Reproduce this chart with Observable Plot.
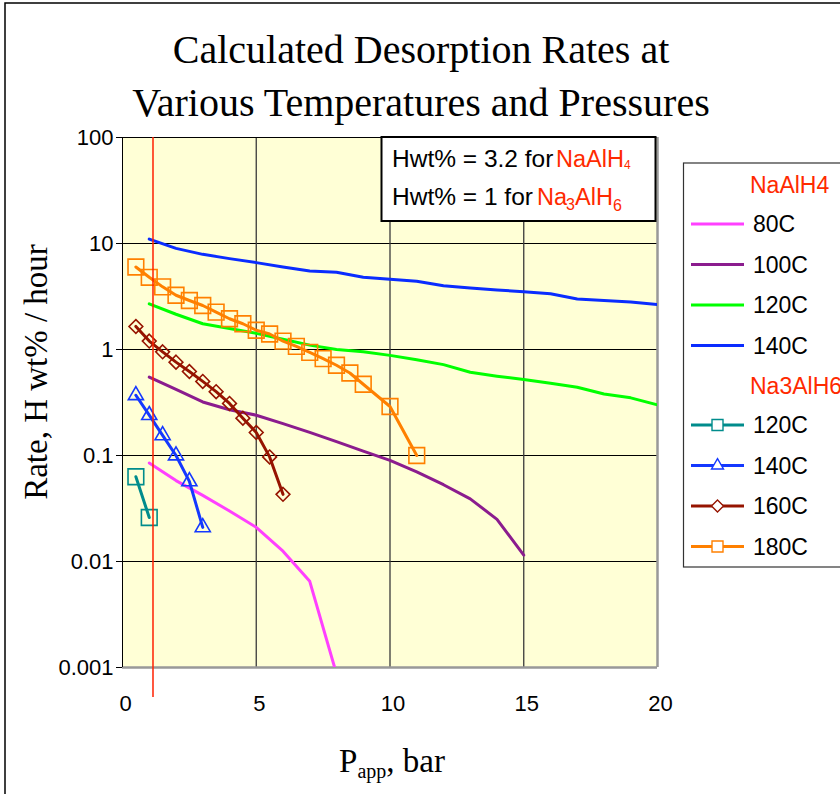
<!DOCTYPE html>
<html><head><meta charset="utf-8">
<script src="https://cdn.jsdelivr.net/npm/d3@7"></script>
<script src="https://cdn.jsdelivr.net/npm/@observablehq/plot@0.6"></script>
<style>
html,body{margin:0;padding:0;background:#fff;}
#wrap{position:relative;width:840px;height:794px;overflow:hidden;background:#fff;}
#wrap > svg{position:absolute;left:0;top:0;}
</style></head><body><div id="wrap"></div>
<script>
// ---------- data ----------
const titleLines = ["Calculated Desorption Rates at", "Various Temperatures and Pressures"];
const yTicks = [100, 10, 1, 0.1, 0.01, 0.001];
const yTickLabels = ["100", "10", "1", "0.1", "0.01", "0.001"];
const xTicks = [0, 5, 10, 15, 20];
const refPressure = 1.14; // red vertical marker line

const legendGroups = ["NaAlH4", "Na3AlH6"];
const seriesNames = ["80C", "100C", "120C", "140C", "120C", "140C", "160C", "180C"];
const seriesGroup = ["NaAlH4", "NaAlH4", "NaAlH4", "NaAlH4", "Na3AlH6", "Na3AlH6", "Na3AlH6", "Na3AlH6"];
const seriesColors = ["#ff40ff", "#8b1c8e", "#00ff00", "#0a2cff", "#008c8c", "#1438ff", "#961400", "#ff8000"];
const seriesSymbols = [null, null, null, null, "square2", "triangle2", "diamond2", "square2"];

const naalh4_80C_P = [1, 2, 3, 4, 5, 6, 7, 8];
const naalh4_80C_R = [0.085, 0.058, 0.042, 0.030, 0.021, 0.0125, 0.0065, 0.00087];
const naalh4_100C_P = [1, 2, 3, 4, 5, 6, 7, 8, 9, 10, 11, 12, 13, 14, 15];
const naalh4_100C_R = [0.55, 0.42, 0.32, 0.27, 0.24, 0.20, 0.165, 0.135, 0.11, 0.09, 0.07, 0.053, 0.039, 0.025, 0.0115];
const naalh4_120C_P = [1, 2, 3, 4, 5, 6, 7, 8, 9, 10, 11, 12, 13, 14, 15, 16, 17, 18, 19, 20];
const naalh4_120C_R = [2.7, 2.15, 1.75, 1.58, 1.42, 1.25, 1.1, 1.0, 0.95, 0.88, 0.8, 0.72, 0.61, 0.56, 0.52, 0.48, 0.44, 0.38, 0.35, 0.30];
const naalh4_140C_P = [1, 2, 3, 4, 5, 6, 7, 8, 9, 10, 11, 12, 13, 14, 15, 16, 17, 18, 19, 20];
const naalh4_140C_R = [11, 9.0, 7.9, 7.2, 6.6, 6.0, 5.5, 5.35, 4.8, 4.6, 4.4, 4.0, 3.8, 3.65, 3.5, 3.35, 3.0, 2.9, 2.8, 2.66];

const na3alh6_120C_P = [0.5, 1];
const na3alh6_120C_R = [0.063, 0.026];
const na3alh6_140C_P = [0.5, 1, 1.5, 2, 2.5, 3];
const na3alh6_140C_R = [0.37, 0.24, 0.155, 0.10, 0.057, 0.021];
const na3alh6_160C_P = [0.5, 1, 1.5, 2, 2.5, 3, 3.5, 4, 4.5, 5, 5.5, 6];
const na3alh6_160C_R = [1.65, 1.2, 0.95, 0.76, 0.62, 0.5, 0.4, 0.31, 0.225, 0.165, 0.097, 0.043];
const na3alh6_180C_P = [0.5, 1, 1.5, 2, 2.5, 3, 3.5, 4, 4.5, 5, 5.5, 6, 6.5, 7, 7.5, 8, 8.5, 9, 10, 11];
const na3alh6_180C_R = [6.0, 4.8, 3.9, 3.25, 2.9, 2.6, 2.25, 1.95, 1.75, 1.52, 1.4, 1.2, 1.07, 0.94, 0.82, 0.71, 0.6, 0.47, 0.29, 0.1];

const seriesP = [naalh4_80C_P, naalh4_100C_P, naalh4_120C_P, naalh4_140C_P, na3alh6_120C_P, na3alh6_140C_P, na3alh6_160C_P, na3alh6_180C_P];
const seriesR = [naalh4_80C_R, naalh4_100C_R, naalh4_120C_R, naalh4_140C_R, na3alh6_120C_R, na3alh6_140C_R, na3alh6_160C_R, na3alh6_180C_R];

// ---------- build ----------
const series = seriesNames.map((name, i) => ({
  name, group: seriesGroup[i], color: seriesColors[i], symbol: seriesSymbols[i],
  rows: seriesP[i].map((p, j) => ({P: p, R: seriesR[i][j]}))
}));
const symbolR = {square2: 10, triangle2: 7.2, diamond2: 6.2};

const dataMarks = [];
series.forEach(s => {
  dataMarks.push(Plot.line(s.rows, {x: "P", y: "R", stroke: s.color, strokeWidth: 3, clip: true}));
  if (s.symbol) {
    dataMarks.push(Plot.dot(s.rows, {x: "P", y: "R", symbol: s.symbol, r: symbolR[s.symbol],
      stroke: s.color, fill: "none", strokeWidth: 1.6}));
  }
});

const chart = Plot.plot({
  width: 840, height: 794,
  marginLeft: 122, marginRight: 183, marginTop: 137, marginBottom: 127,
  style: {background: "transparent", fontFamily: "'Liberation Sans', Arial, sans-serif", fontSize: "22px", color: "#000", overflow: "visible"},
  x: {domain: [0, 20]},
  y: {type: "log", domain: [0.001, 100]},
  marks: [
    Plot.frame({fill: "#ffffd6", stroke: null}),
    Plot.ruleY(yTicks.slice(1, 5), {stroke: "#000", strokeWidth: 1}),
    Plot.ruleX([5, 10, 15], {stroke: "#3a3a3a", strokeWidth: 1.3}),
    Plot.ruleY([100], {stroke: "#000", strokeWidth: 1}),
    Plot.ruleX([20], {stroke: "#999", strokeWidth: 2.5}),
    Plot.ruleY([0.001], {stroke: "#999", strokeWidth: 2.5}),
    Plot.ruleX([0], {stroke: "#000", strokeWidth: 1}),
    Plot.axisY({ticks: yTicks, tickSize: 6, tickPadding: 3, fontSize: 22, label: null, stroke: "#000",
      tickFormat: d => yTickLabels[yTicks.findIndex(t => Math.abs(Math.log10(t) - Math.log10(d)) < 1e-6)]}),
    Plot.axisX({ticks: xTicks, tickSize: 0, tickPadding: 28, fontSize: 22, label: null, dx: 3}),
    ...dataMarks,
    Plot.ruleX([refPressure], {y1: 100, y2: 0.00052, stroke: "#ff2000", strokeWidth: 1.5})
  ]
});
chart.querySelectorAll("text").forEach(el => { el.style.fontSize = "22px"; el.style.fontFamily = "'Liberation Sans', Arial, sans-serif"; });
const wrap = document.getElementById("wrap");
wrap.appendChild(chart);

// ---------- overlay text, annotation, legend ----------
const ov = d3.select(wrap).append("svg").attr("width", 840).attr("height", 794).style("pointer-events", "none");
const serif = "'Liberation Serif', 'Times New Roman', serif";
const sans = "'Liberation Sans', Arial, sans-serif";

ov.append("rect").attr("x", 5).attr("y", 3).attr("width", 900).attr("height", 900)
  .attr("fill", "none").attr("stroke", "#000").attr("stroke-width", 1.5);

titleLines.forEach((t, i) => ov.append("text").attr("x", 421).attr("y", 63 + i * 53)
  .attr("text-anchor", "middle").style("font-family", serif).style("font-size", "40px").attr("fill", "#000").text(t));

ov.append("text").attr("transform", "translate(47,372) rotate(-90)").attr("text-anchor", "middle")
  .style("font-family", serif).style("font-size", "33px").text("Rate, H wt% / hour");

const xl = ov.append("text").attr("x", 392).attr("y", 772).attr("text-anchor", "middle")
  .style("font-family", serif).style("font-size", "33px");
xl.append("tspan").text("P");
xl.append("tspan").attr("dy", 6).style("font-size", "20px").text("app");
xl.append("tspan").attr("dy", -6).text(", bar");

// annotation box
ov.append("rect").attr("x", 381.5).attr("y", 137).attr("width", 274).attr("height", 84)
  .attr("fill", "#fff").attr("stroke", "#000").attr("stroke-width", 2);
const red = "#ff2a00";
function t(x, y, s, size, color) {
  ov.append("text").attr("x", x).attr("y", y).style("font-family", sans).style("font-size", size + "px").attr("fill", color).text(s);
}
t(392, 167, "Hwt% = 3.2 for", 24.5, "#000");
t(556, 167, "NaAlH", 23.5, red);
t(624, 169, "4", 12, red);
t(392, 205, "Hwt% = 1 for", 24.5, "#000");
t(537, 205, "Na", 23.5, red);
t(566, 210, "3", 16, red);
t(575, 205, "AlH", 23.5, red);
t(613, 211, "6", 16, red);

// legend
ov.append("rect").attr("x", 683.5).attr("y", 163).attr("width", 220).attr("height", 404)
  .attr("fill", "#fff").attr("stroke", "#333").attr("stroke-width", 1.2);
const legendSym = {square2: 154, triangle2: 103, diamond2: 92};
const symMap = {square2: d3.symbolSquare2, triangle2: d3.symbolTriangle2, diamond2: d3.symbolDiamond2};
let ly = 185;
legendGroups.forEach(g => {
  ov.append("text").attr("x", 750).attr("y", ly + 8).style("font-family", sans).style("font-size", "23px").attr("fill", red).text(g);
  ly += 39;
  series.filter(s => s.group === g).forEach(s => {
    ov.append("line").attr("x1", 691).attr("x2", 744).attr("y1", ly).attr("y2", ly).attr("stroke", s.color).attr("stroke-width", 3);
    if (s.symbol) {
      ov.append("path").attr("d", d3.symbol(symMap[s.symbol], legendSym[s.symbol])())
        .attr("transform", `translate(717.5,${ly})`).attr("fill", "#fff").attr("stroke", s.color).attr("stroke-width", 1.4);
    }
    ov.append("text").attr("x", 753).attr("y", ly + 8).style("font-family", sans).style("font-size", "23px").attr("fill", "#000").text(s.name);
    ly += 40.5;
  });
});
</script></body></html>
